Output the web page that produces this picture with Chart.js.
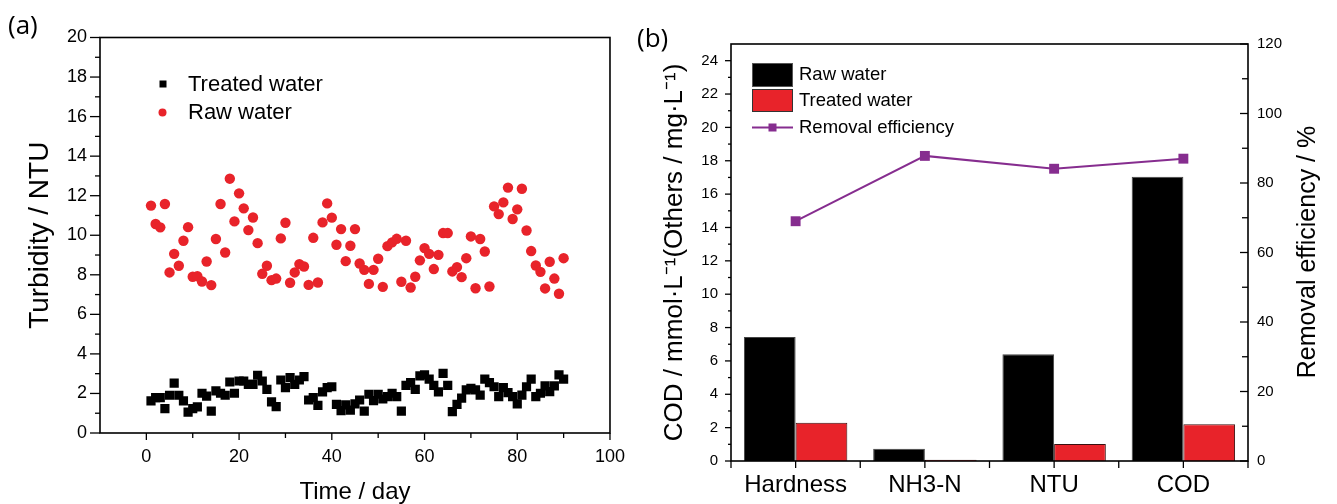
<!DOCTYPE html>
<html>
<head>
<meta charset="utf-8">
<script src="https://cdn.jsdelivr.net/npm/chart.js@4.4.1/dist/chart.umd.min.js"></script>
<style>
    html, body { margin: 0; padding: 0; background: #fff; }
    #wrap { position: relative; width: 1337px; height: 504px; overflow: hidden; }
    #chartA { position: absolute; left: 0; top: 0; }
    #chartB { position: absolute; left: 620px; top: 0; }
</style>
</head>
<body>
<div id="wrap">
    <canvas id="chartA" width="640" height="504"></canvas>
    <canvas id="chartB" width="717" height="504"></canvas>
</div>
<script>
// ============================================
// DATA
// ============================================

// (a) turbidity, one reading per day
const days = [1,2,3,4,5,6,7,8,9,10,11,12,13,14,15,16,17,18,19,20,21,22,23,24,25,26,27,28,29,30,
    31,32,33,34,35,36,37,38,39,40,41,42,43,44,45,46,47,48,49,50,51,52,53,54,55,56,57,58,59,60,
    61,62,63,64,65,66,67,68,69,70,71,72,73,74,75,76,77,78,79,80,81,82,83,84,85,86,87,88,89,90];

const treatedTurbidity = [1.62,1.79,1.79,1.23,1.91,2.52,1.91,1.62,1.06,1.23,1.32,2.01,1.86,1.11,2.13,2.01,1.91,2.58,2.01,2.63,
    2.63,2.46,2.46,2.92,2.63,2.21,1.57,1.33,2.68,2.29,2.80,2.46,2.68,2.85,1.67,1.79,1.40,2.08,2.29,2.34,
    1.45,1.13,1.42,1.16,1.47,1.67,1.11,1.96,1.64,1.96,1.72,1.84,2.01,1.84,1.11,2.41,2.55,2.21,2.89,2.94,
    2.72,2.41,2.08,3.02,2.41,1.08,1.45,1.76,2.18,2.26,2.18,1.92,2.72,2.55,2.34,1.84,2.29,2.04,1.84,1.47,
    1.92,2.34,2.72,1.84,2.01,2.38,2.09,2.38,2.94,2.72];

const rawTurbidity = [11.50,10.57,10.40,11.58,8.12,9.06,8.46,9.72,10.41,7.90,7.93,7.66,8.67,7.48,9.81,11.58,9.13,12.86,10.70,12.12,
    11.36,10.26,10.90,9.60,8.05,8.46,7.73,7.81,9.84,10.63,7.60,8.12,8.54,8.42,7.49,9.87,7.61,10.65,11.61,10.89,
    9.52,10.31,8.69,9.47,10.31,8.57,8.25,7.54,8.25,8.81,7.39,9.45,9.64,9.82,7.65,9.72,7.36,7.90,8.73,9.35,
    9.06,8.29,9.01,10.11,10.11,8.17,8.39,7.88,8.84,9.94,7.32,9.81,9.18,7.41,11.46,11.07,11.66,12.41,10.82,11.31,
    12.35,10.24,9.20,8.47,8.15,7.31,8.66,7.81,7.04,8.84];

const turbidityTicks = [0,2,4,6,8,10,12,14,16,18,20];
const dayTicks = [0,20,40,60,80,100];

// (b) removal per parameter
const parameters = ['Hardness', 'NH3-N', 'NTU', 'COD'];
const rawWater = [7.44, 0.74, 6.40, 17.04];
const treatedWater = [2.30, 0.08, 1.02, 2.20];
const removalEfficiency = [69.0, 87.8, 84.1, 87.0];

const concTicks = [0,2,4,6,8,10,12,14,16,18,20,22,24];
const effTicks = [0,20,40,60,80,100,120];

// ============================================
// HELPERS
// ============================================

const SANS = '"Liberation Sans", Arial, sans-serif';
const RED = '#e8232a';
const PURPLE = '#862d8f';

function midpoints(ticks) {
    const out = [];
    for (let i = 0; i < ticks.length - 1; i++) out.push((ticks[i] + ticks[i + 1]) / 2);
    return out;
}

// draws the box around the plot and the major / minor tick marks
function drawFrameTicks(chart, axes) {
    const { ctx, chartArea: a } = chart;
    ctx.save();
    ctx.strokeStyle = '#000';
    ctx.lineWidth = 1.6;
    ctx.strokeRect(a.left, a.top, a.right - a.left, a.bottom - a.top);
    ctx.lineWidth = 1.3;
    axes.forEach(ax => {
        const s = chart.scales[ax.id];
        const draw = (v, len) => {
            const p = s.getPixelForValue(v);
            ctx.beginPath();
            if (ax.side === 'left') { ctx.moveTo(a.left, p); ctx.lineTo(a.left - len, p); }
            else if (ax.side === 'rightIn') { ctx.moveTo(a.right, p); ctx.lineTo(a.right - len, p); }
            else { ctx.moveTo(p, a.bottom); ctx.lineTo(p, a.bottom + len); }
            ctx.stroke();
        };
        ax.major.forEach(v => draw(v, ax.majorLen));
        ax.minor.forEach(v => draw(v, ax.minorLen));
    });
    ctx.restore();
}

// ============================================
// PANEL (a)
// ============================================

const panelA = {
    id: 'panelA',
    afterDraw(chart) {
        drawFrameTicks(chart, [
            { id: 'y', side: 'left', major: turbidityTicks, minor: midpoints(turbidityTicks), majorLen: 10, minorLen: 5 },
            { id: 'x', side: 'bottom', major: dayTicks, minor: midpoints(dayTicks), majorLen: 7, minorLen: 5 }
        ]);
        const ctx = chart.ctx;
        const ds = chart.data.datasets;
        ctx.save();
        ctx.fillStyle = '#000';
        ctx.font = '26px "Open Sans", sans-serif';
        ctx.textBaseline = 'middle';
        ctx.fillText('(a)', 8, 27);
        // legend
        ctx.fillStyle = '#000';
        ctx.fillRect(159.5, 80.5, 7, 7);
        ctx.fillStyle = RED;
        ctx.beginPath();
        ctx.arc(162.5, 112.5, 4, 0, Math.PI * 2);
        ctx.fill();
        ctx.fillStyle = '#000';
        ctx.font = '22px ' + SANS;
        ctx.fillText(ds[0].label, 188, 85);
        ctx.fillText(ds[1].label, 188, 113);
        ctx.restore();
    }
};

new Chart(document.getElementById('chartA'), {
    type: 'scatter',
    data: {
        datasets: [
            {
                label: 'Treated water',
                data: days.map((d, i) => ({ x: d, y: treatedTurbidity[i] })),
                pointStyle: 'rect',
                pointRadius: 6.5,
                backgroundColor: '#000',
                borderColor: '#000',
                borderWidth: 0
            },
            {
                label: 'Raw water',
                data: days.map((d, i) => ({ x: d, y: rawTurbidity[i] })),
                pointStyle: 'circle',
                pointRadius: 5.2,
                backgroundColor: RED,
                borderColor: RED,
                borderWidth: 0
            }
        ]
    },
    options: {
        responsive: false,
        animation: false,
        layout: { padding: { top: 37.5, right: 20, left: 0, bottom: 0 } },
        plugins: { legend: { display: false }, tooltip: { enabled: false } },
        scales: {
            x: {
                type: 'linear',
                min: -10,
                max: 100,
                afterBuildTicks: s => { s.ticks = dayTicks.map(v => ({ value: v })); },
                afterFit: s => { s.height = 71; },
                grid: { display: false, drawTicks: false },
                border: { display: false },
                ticks: { padding: 15, color: '#000', font: { family: SANS, size: 18, lineHeight: 1 } },
                title: { display: true, text: 'Time / day', color: '#000', padding: { top: 0, bottom: 0 }, font: { family: SANS, size: 24, lineHeight: 1 } }
            },
            y: {
                min: 0,
                max: 20,
                afterBuildTicks: s => { s.ticks = turbidityTicks.map(v => ({ value: v })); },
                afterFit: s => { s.width = 100; },
                grid: { display: false, drawTicks: false },
                border: { display: false },
                ticks: { padding: 13, color: '#000', font: { family: SANS, size: 18, lineHeight: 1 } },
                title: { display: true, text: 'Turbidity / NTU', color: '#000', padding: { top: 26, bottom: 0 }, font: { family: SANS, size: 28, lineHeight: 1 } }
            }
        }
    },
    plugins: [panelA]
});

// ============================================
// PANEL (b)
// ============================================

const panelB = {
    id: 'panelB',
    afterDraw(chart) {
        drawFrameTicks(chart, [
            { id: 'y', side: 'left', major: concTicks, minor: midpoints(concTicks), majorLen: 6, minorLen: 3 },
            { id: 'y1', side: 'rightIn', major: effTicks, minor: midpoints(effTicks), majorLen: 8, minorLen: 6 },
            { id: 'x', side: 'bottom', major: [0, 1, 2, 3], minor: [-0.5, 0.5, 1.5, 2.5, 3.5], majorLen: 7, minorLen: 7 }
        ]);
        const ctx = chart.ctx;
        const ds = chart.data.datasets;
        ctx.save();
        ctx.fillStyle = '#000';
        ctx.textBaseline = 'middle';
        ctx.font = '26px "Open Sans", sans-serif';
        ctx.fillText('(b)', 17, 40);
        // legend
        ctx.lineWidth = 1;
        ctx.fillStyle = '#000';
        ctx.strokeStyle = '#555';
        ctx.fillRect(132, 63, 41, 23);
        ctx.strokeRect(132.5, 63.5, 40, 23);
        ctx.fillStyle = RED;
        ctx.fillRect(132, 89, 41, 23);
        ctx.strokeStyle = '#333';
        ctx.strokeRect(132.5, 89.5, 40, 22);
        ctx.strokeStyle = PURPLE;
        ctx.lineWidth = 2;
        ctx.beginPath();
        ctx.moveTo(132, 127.5);
        ctx.lineTo(173, 127.5);
        ctx.stroke();
        ctx.fillStyle = PURPLE;
        ctx.fillRect(148.5, 123.5, 8, 8);
        ctx.fillStyle = '#000';
        ctx.font = '18.5px ' + SANS;
        ctx.fillText(ds[1].label, 179, 75);
        ctx.fillText(ds[2].label, 179, 100.5);
        ctx.fillText(ds[0].label, 179, 128);
        // right axis title, reading upwards
        ctx.translate(688, 252);
        ctx.rotate(-Math.PI / 2);
        ctx.textAlign = 'center';
        ctx.font = '25px ' + SANS;
        ctx.fillText('Removal efficiency / %', 0, 0);
        ctx.restore();
    }
};

new Chart(document.getElementById('chartB'), {
    type: 'bar',
    data: {
        labels: parameters,
        datasets: [
            {
                type: 'line',
                label: 'Removal efficiency',
                data: removalEfficiency,
                yAxisID: 'y1',
                borderColor: PURPLE,
                backgroundColor: PURPLE,
                borderWidth: 2,
                pointStyle: 'rect',
                pointRadius: 7,
                pointBorderWidth: 0,
                order: 0
            },
            {
                label: 'Raw water',
                data: rawWater,
                yAxisID: 'y',
                backgroundColor: '#000',
                borderColor: '#444',
                borderWidth: 1,
                categoryPercentage: 0.8,
                barPercentage: 1.0,
                order: 1
            },
            {
                label: 'Treated water',
                data: treatedWater,
                yAxisID: 'y',
                backgroundColor: RED,
                borderColor: '#3a1010',
                borderWidth: 1,
                categoryPercentage: 0.8,
                barPercentage: 1.0,
                order: 1
            }
        ]
    },
    options: {
        responsive: false,
        animation: false,
        layout: { padding: { top: 44, right: 0, left: 0, bottom: 0 } },
        plugins: { legend: { display: false }, tooltip: { enabled: false } },
        scales: {
            x: {
                afterFit: s => { s.height = 43; },
                grid: { display: false, drawTicks: false },
                border: { display: false },
                ticks: { padding: 12, color: '#000', font: { family: SANS, size: 24, lineHeight: 1 } }
            },
            y: {
                position: 'left',
                min: 0,
                max: 25,
                afterBuildTicks: s => { s.ticks = concTicks.map(v => ({ value: v })); },
                afterFit: s => { s.width = 111; },
                grid: { display: false, drawTicks: false },
                border: { display: false },
                ticks: { padding: 13, color: '#000', font: { family: SANS, size: 15, lineHeight: 1 } },
                title: {
                    display: true,
                    text: 'COD / mmol·L⁻¹(Others / mg·L⁻¹)',
                    color: '#000',
                    padding: { top: 42, bottom: 0 },
                    font: { family: SANS, size: 26, lineHeight: 1 }
                }
            },
            y1: {
                position: 'right',
                min: 0,
                max: 120,
                afterBuildTicks: s => { s.ticks = effTicks.map(v => ({ value: v })); },
                afterFit: s => { s.width = 89; },
                grid: { display: false, drawTicks: false },
                border: { display: false },
                ticks: { padding: 9, color: '#000', font: { family: SANS, size: 15, lineHeight: 1 } }
            }
        }
    },
    plugins: [panelB]
});
</script>
</body>
</html>
